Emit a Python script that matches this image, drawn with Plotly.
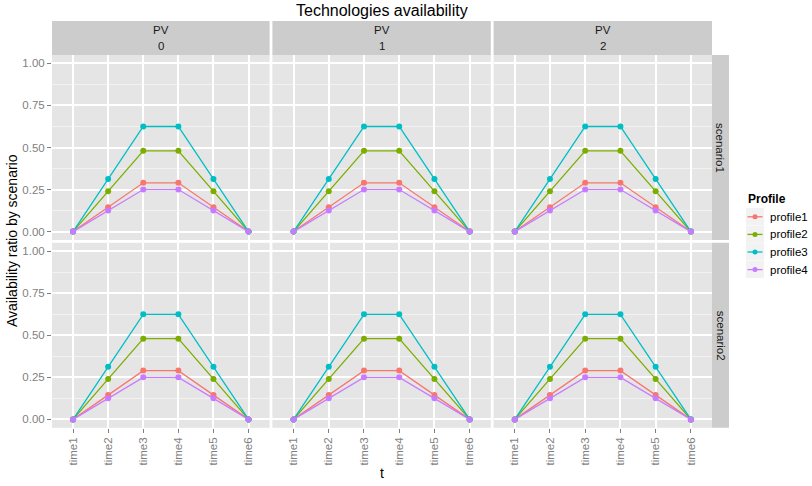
import plotly.graph_objects as go

# ---- data ----
times = ["time1", "time2", "time3", "time4", "time5", "time6"]
pv_levels = ["0", "1", "2"]
scenarios = ["scenario1", "scenario2"]
profiles = ["profile1", "profile2", "profile3", "profile4"]

profile1 = [0.0, 0.145, 0.29, 0.29, 0.145, 0.0]
profile2 = [0.0, 0.24, 0.48, 0.48, 0.24, 0.0]
profile3 = [0.0, 0.3125, 0.625, 0.625, 0.3125, 0.0]
profile4 = [0.0, 0.125, 0.25, 0.25, 0.125, 0.0]
series = [profile1, profile2, profile3, profile4]

y_ticks = [0.0, 0.25, 0.5, 0.75, 1.0]
y_ticktext = ["0.00", "0.25", "0.50", "0.75", "1.00"]
y_minor = [0.125, 0.375, 0.625, 0.875]

# ---- style ----
colors = ["#F8766D", "#7CAE00", "#00BFC4", "#C77CFF"]
W, H = 812, 486
FONT = "Liberation Sans, Arial, Helvetica, sans-serif"
GREY_TXT = "#7F7F7F"
STRIP = "#CCCCCC"

col_px = [(52.0, 269.6), (272.4, 490.8), (493.6, 712.0)]
row_px = [(55.0, 240.0), (242.8, 427.8)]


def fx(v):
    return v / W


def fy(v):
    return 1 - v / H


fig = go.Figure()
layout = {}
shapes = []
annotations = []

n = 0
for r, scen in enumerate(scenarios):
    for c, pv in enumerate(pv_levels):
        n += 1
        xa = "x" if n == 1 else f"x{n}"
        ya = "y" if n == 1 else f"y{n}"
        for name, vals, col in zip(profiles, series, colors):
            fig.add_trace(go.Scatter(
                x=times, y=vals, xaxis=xa, yaxis=ya, name=name,
                mode="lines+markers",
                line=dict(color=col, width=1.3),
                marker=dict(size=6, color=col),
                showlegend=False,
            ))
        x0, x1 = col_px[c]
        y0, y1 = row_px[r]
        bottom = r == len(scenarios) - 1
        left = c == 0
        layout["xaxis" if n == 1 else f"xaxis{n}"] = dict(
            domain=[fx(x0), fx(x1)], anchor=ya,
            type="category", categoryorder="array", categoryarray=times,
            range=[-0.6, len(times) - 0.4],
            showgrid=True, gridcolor="white", gridwidth=1.5,
            zeroline=False, showline=False,
            showticklabels=bottom, ticks="outside" if bottom else "",
            ticklen=4, tickwidth=1, tickcolor=GREY_TXT,
            tickangle=-90, tickfont=dict(size=11.5, color=GREY_TXT, family=FONT),
        )
        layout["yaxis" if n == 1 else f"yaxis{n}"] = dict(
            domain=[fy(y1), fy(y0)], anchor=xa,
            range=[-0.05, 1.05],
            tickmode="array", tickvals=y_ticks, ticktext=y_ticktext,
            showgrid=True, gridcolor="white", gridwidth=1.5,
            minor=dict(tickmode="array", tickvals=y_minor, showgrid=True,
                       gridcolor="#F2F2F2", gridwidth=0.8, ticks=""),
            zeroline=False, showline=False,
            showticklabels=left, ticks="outside" if left else "",
            ticklen=4, tickwidth=1, tickcolor=GREY_TXT,
            tickfont=dict(size=11.5, color=GREY_TXT, family=FONT),
        )

# column strips (PV level)
for c, pv in enumerate(pv_levels):
    x0, x1 = col_px[c]
    shapes.append(dict(type="rect", xref="paper", yref="paper",
                       x0=fx(x0), x1=fx(x1), y0=fy(55), y1=fy(21),
                       fillcolor=STRIP, line=dict(width=0)))
    for txt, ypx in (("PV", 30), (pv, 46.5)):
        annotations.append(dict(text=txt, xref="paper", yref="paper",
                                x=fx((x0 + x1) / 2), y=fy(ypx),
                                xanchor="center", yanchor="middle", showarrow=False,
                                font=dict(size=11.5, color="#1A1A1A", family=FONT)))

# row strips (scenario)
for r, scen in enumerate(scenarios):
    y0, y1 = row_px[r]
    shapes.append(dict(type="rect", xref="paper", yref="paper",
                       x0=fx(712), x1=fx(729), y0=fy(y1), y1=fy(y0),
                       fillcolor=STRIP, line=dict(width=0)))
    annotations.append(dict(text=scen, xref="paper", yref="paper",
                            x=fx(720.5), y=fy((y0 + y1) / 2), textangle=90,
                            xanchor="center", yanchor="middle", showarrow=False,
                            font=dict(size=11.5, color="#1A1A1A", family=FONT)))

# legend
annotations.append(dict(text="<b>Profile</b>", xref="paper", yref="paper",
                        x=fx(746), y=fy(199), xanchor="left", yanchor="middle",
                        showarrow=False, font=dict(size=12, color="black", family=FONT)))
for i, (name, col) in enumerate(zip(profiles, colors)):
    top = 208 + 17.6 * i
    cy = top + 8.8
    shapes.append(dict(type="rect", xref="paper", yref="paper",
                       x0=fx(746), x1=fx(764), y0=fy(top + 17.2), y1=fy(top),
                       fillcolor="#F2F2F2", line=dict(width=0)))
    shapes.append(dict(type="line", xref="paper", yref="paper",
                       x0=fx(747.5), x1=fx(762.5), y0=fy(cy), y1=fy(cy),
                       line=dict(color=col, width=1.3)))
    shapes.append(dict(type="circle", xref="paper", yref="paper",
                       x0=fx(752.5), x1=fx(757.5), y0=fy(cy + 2.5), y1=fy(cy - 2.5),
                       fillcolor=col, line=dict(width=0)))
    annotations.append(dict(text=name, xref="paper", yref="paper",
                            x=fx(768), y=fy(cy), xanchor="left", yanchor="middle",
                            showarrow=False, font=dict(size=11.5, color="black", family=FONT)))

# titles
annotations.append(dict(text="Technologies availability", xref="paper", yref="paper",
                        x=fx(382), y=fy(11), xanchor="center", yanchor="middle",
                        showarrow=False, font=dict(size=16, color="black", family=FONT)))
annotations.append(dict(text="t", xref="paper", yref="paper",
                        x=fx(382), y=fy(473), xanchor="center", yanchor="middle",
                        showarrow=False, font=dict(size=14, color="black", family=FONT)))
annotations.append(dict(text="Availability ratio by scenario", xref="paper", yref="paper",
                        x=fx(12), y=fy(241), textangle=-90, xanchor="center", yanchor="middle",
                        showarrow=False, font=dict(size=14, color="black", family=FONT)))

fig.update_layout(
    width=W, height=H,
    margin=dict(l=0, r=0, t=0, b=0),
    paper_bgcolor="white", plot_bgcolor="#E5E5E5",
    font=dict(family=FONT),
    shapes=shapes, annotations=annotations,
    showlegend=False,
    **layout,
)

fig.write_html("out.html")
